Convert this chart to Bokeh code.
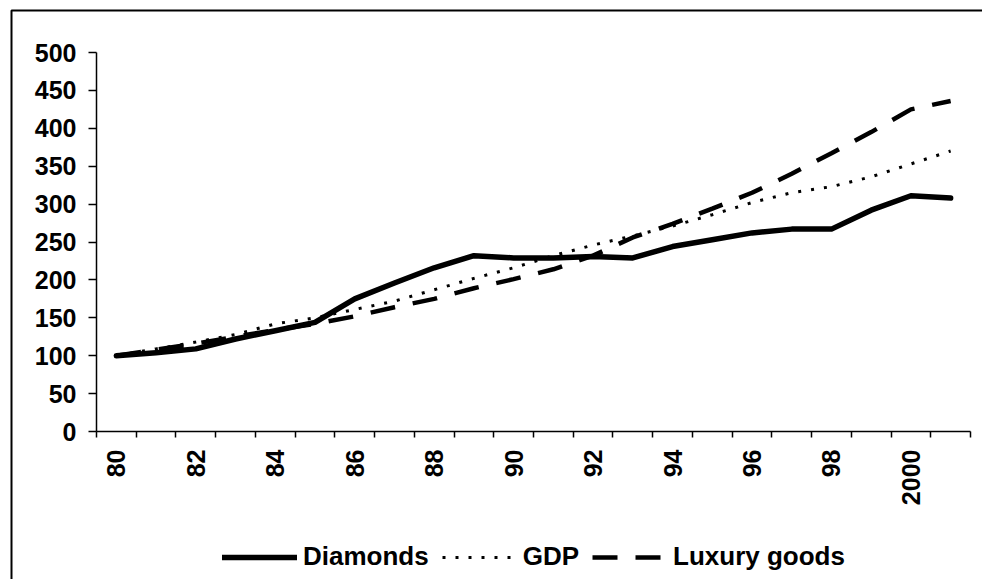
import math
from bokeh.plotting import figure
from bokeh.models import FixedTicker, Legend, LegendItem, Range1d, LinearAxis
from bokeh.embed import file_html
from bokeh.resources import INLINE

years = ["80", "81", "82", "83", "84", "85", "86", "87", "88", "89", "90",
         "91", "92", "93", "94", "95", "96", "97", "98", "99", "2000", "01"]
diamonds = [100, 104, 109, 122, 133, 144, 175, 196, 216, 232, 229,
            229, 231, 229, 244, 253, 262, 267, 267, 292, 311, 308]
gdp = [100, 109, 118, 128, 142, 150, 161, 172, 187, 202, 216,
       232, 246, 258, 271, 286, 302, 315, 323, 336, 353, 370]
luxury = [100, 108, 116, 125, 134, 142, 152, 164, 175, 189, 201,
          214, 232, 256, 274, 294, 315, 340, 367, 395, 425, 436]
y_ticks = list(range(0, 501, 50))

FONT = "Liberation Sans"
W, H = 982, 579

# layout in pixels: plot area of the chart (axes) inside the canvas
AX_LEFT, AX_RIGHT, AX_TOP, AX_BOTTOM = 96, 970, 52, 431
BORDER_X, BORDER_Y = 11, 10
n = len(years)
px_x = (AX_RIGHT - AX_LEFT) / n
px_y = (AX_BOTTOM - AX_TOP) / 500.0
x0 = -AX_LEFT / px_x
x1 = n + (W - AX_RIGHT) / px_x
y1 = AX_BOTTOM / px_y
y0 = -(H - AX_BOTTOM) / px_y

xs = [i + 0.5 for i in range(n)]

p = figure(width=W, height=H, x_range=Range1d(x0, x1), y_range=Range1d(y0, y1),
           output_backend="svg", toolbar_location=None,
           x_axis_location=None, y_axis_location=None, min_border=0)
p.xgrid.visible = False
p.ygrid.visible = False
p.outline_line_color = None
p.background_fill_color = "white"
p.border_fill_color = "white"

# outer chart border: only its top and left edges fall inside the picture
bx = x0 + BORDER_X / px_x
by = y1 - BORDER_Y / px_y
p.line([bx, bx, x1 + 2], [y0 - 20, by, by], line_color="black", line_width=2)

# y axis
ya = LinearAxis(fixed_location=0, bounds=(0, 500))
ya.ticker = FixedTicker(ticks=y_ticks, minor_ticks=[])
ya.major_tick_out = 8
ya.major_tick_in = 0
ya.minor_tick_out = 0
ya.minor_tick_in = 0
ya.axis_line_width = 1.5
ya.major_tick_line_width = 1.5
ya.axis_line_color = "black"
ya.major_tick_line_color = "black"
ya.major_label_standoff = 12
ya.major_label_text_font = FONT
ya.major_label_text_font_style = "bold"
ya.major_label_text_font_size = "25px"
ya.major_label_text_color = "black"
p.add_layout(ya, "left")

# x axis: labels at category centres (every second), tick marks at category boundaries
xa = LinearAxis(fixed_location=0, bounds=(0, n))
label_pos = [xs[i] for i in range(0, n, 2)]
xa.ticker = FixedTicker(ticks=label_pos, minor_ticks=list(range(0, n + 1)))
xa.major_label_overrides = {xs[i]: years[i] for i in range(0, n, 2)}
xa.major_tick_out = 0
xa.major_tick_in = 0
xa.major_tick_line_color = None
xa.minor_tick_out = 6
xa.minor_tick_in = 0
xa.minor_tick_line_width = 1.5
xa.minor_tick_line_color = "black"
xa.axis_line_width = 1.5
xa.axis_line_color = "black"
xa.major_label_orientation = math.pi / 2
xa.major_label_standoff = 12
xa.major_label_text_font = FONT
xa.major_label_text_font_style = "bold"
xa.major_label_text_font_size = "25px"
xa.major_label_text_color = "black"
p.add_layout(xa, "below")

r_lux = p.line(xs, luxury, line_color="black", line_width=4.5, line_dash="25 18")
r_gdp = p.line(xs, gdp, line_color="black", line_width=3, line_dash="3 10")
r_dia = p.line(xs, diamonds, line_color="black", line_width=5.5, line_join="round", line_cap="round")

legend = Legend(items=[LegendItem(label="Diamonds", renderers=[r_dia]),
                       LegendItem(label="GDP", renderers=[r_gdp]),
                       LegendItem(label="Luxury goods", renderers=[r_lux])],
                orientation="horizontal", location=(222, 7),
                glyph_width=75, glyph_height=20, label_standoff=6, spacing=13,
                padding=0, margin=0, border_line_color=None, background_fill_alpha=0,
                label_text_font=FONT, label_text_font_style="bold",
                label_text_font_size="26px", label_text_color="black")
p.add_layout(legend, "center")

open("out.html", "w").write(file_html(p, INLINE))
